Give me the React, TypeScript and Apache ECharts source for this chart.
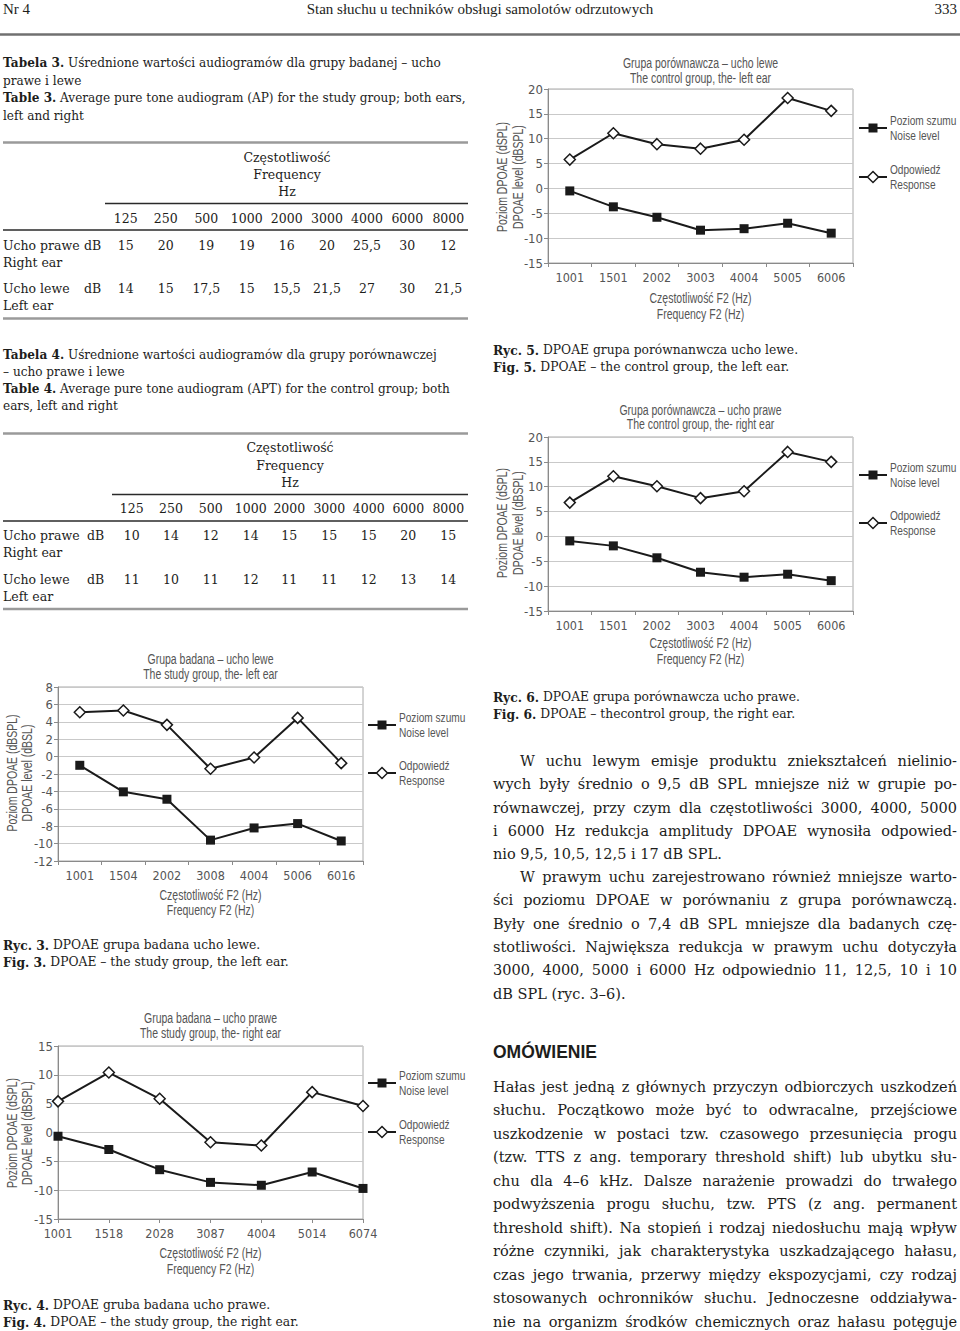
import React, { useEffect, useRef } from 'react';
import * as echarts from 'echarts';

// ---------- data ----------
const tableFreqs = ['125', '250', '500', '1000', '2000', '3000', '4000', '6000', '8000'];
const table3Right = ['15', '20', '19', '19', '16', '20', '25,5', '30', '12'];
const table3Left = ['14', '15', '17,5', '15', '15,5', '21,5', '27', '30', '21,5'];
const table4Right = ['10', '14', '12', '14', '15', '15', '15', '20', '15'];
const table4Left = ['11', '10', '11', '12', '11', '11', '12', '13', '14'];

const catsFig3 = ['1001', '1504', '2002', '3008', '4004', '5006', '6016'];
const noiseFig3 = [-1.0, -4.05, -4.9, -9.6, -8.2, -7.7, -9.7];
const respFig3 = [5.1, 5.3, 3.65, -1.4, -0.1, 4.45, -0.75];

const catsFig4 = ['1001', '1518', '2028', '3087', '4004', '5014', '6074'];
const noiseFig4 = [-0.65, -2.95, -6.45, -8.65, -9.15, -6.85, -9.7];
const respFig4 = [5.4, 10.4, 5.85, -1.7, -2.25, 7.0, 4.6];

const catsFig5 = ['1001', '1501', '2002', '3003', '4004', '5005', '6006'];
const noiseFig5 = [-0.5, -3.7, -5.8, -8.4, -8.1, -7.0, -9.0];
const respFig5 = [5.8, 11.1, 8.9, 8.0, 9.8, 18.2, 15.6];

const catsFig6 = ['1001', '1501', '2002', '3003', '4004', '5005', '6006'];
const noiseFig6 = [-0.9, -1.9, -4.3, -7.2, -8.2, -7.6, -8.9];
const respFig6 = [6.8, 12.1, 10.1, 7.7, 9.1, 17.0, 15.0];

const seriesNoiseName = 'Poziom szumu';
const seriesNoiseName2 = 'Noise level';
const seriesRespName = 'Odpowiedź';
const seriesRespName2 = 'Response';

const para1 = [
  'W uchu lewym emisje produktu zniekształceń nielinio-',
  'wych były średnio o 9,5 dB SPL mniejsze niż w grupie po-',
  'równawczej, przy czym dla częstotliwości 3000, 4000, 5000',
  'i 6000 Hz redukcja amplitudy DPOAE wynosiła odpowied-',
  'nio 9,5, 10,5, 12,5 i 17 dB SPL.',
];
const para2 = [
  'W prawym uchu zarejestrowano również mniejsze warto-',
  'ści poziomu DPOAE w porównaniu z grupa porównawczą.',
  'Były one średnio o 7,4 dB SPL mniejsze dla badanych czę-',
  'stotliwości. Największa redukcja w prawym uchu dotyczyła',
  '3000, 4000, 5000 i 6000 Hz odpowiednio 11, 12,5, 10 i 10',
  'dB SPL (ryc. 3–6).',
];
const para3 = [
  'Hałas jest jedną z głównych przyczyn odbiorczych uszkodzeń',
  'słuchu. Początkowo może być to odwracalne, przejściowe',
  'uszkodzenie w postaci tzw. czasowego przesunięcia progu',
  '(tzw. TTS z ang. temporary threshold shift) lub ubytku słu-',
  'chu dla 4–6 kHz. Dalsze narażenie prowadzi do trwałego',
  'podwyższenia progu słuchu, tzw. PTS (z ang. permanent',
  'threshold shift). Na stopień i rodzaj niedosłuchu mają wpływ',
  'różne czynniki, jak charakterystyka uszkadzającego hałasu,',
  'czas jego trwania, przerwy między ekspozycjami, czy rodzaj',
  'stosowanych ochronników słuchu. Jednoczesne oddziaływa-',
  'nie na organizm środków chemicznych oraz hałasu potęguje',
];

// ---------- styles ----------
const SERIF = '"DejaVu Serif", serif';
const HEAD = '"Liberation Serif", "Times New Roman", serif';
const SANS = '"Liberation Sans", Arial, sans-serif';
const AXISF = '"DejaVu Sans Condensed", "Liberation Sans", sans-serif';
const NX = 0.75; // horizontal squeeze imitating a narrow sans face
const INK = '#1d1d1b';
const CHART_TXT = '#555555';
const LINE = '#1a1a1a';

let measureCtx: CanvasRenderingContext2D | null = null;
function measure(text: string, size: number, family: string, weight = 'normal') {
  if (!measureCtx) measureCtx = document.createElement('canvas').getContext('2d');
  measureCtx!.font = `${weight} ${size}px ${family}`;
  return measureCtx!.measureText(text).width;
}

function txt(x: number, y: number, text: string, size: number, family: string, opts: any = {}) {
  return {
    type: 'text',
    x,
    y,
    rotation: opts.rotation || 0,
    scaleX: opts.scaleX || 1,
    silent: true,
    style: {
      text,
      fontSize: size,
      fontFamily: family,
      fontWeight: opts.weight || 'normal',
      fill: opts.fill || INK,
      textAlign: opts.align || 'left',
      textVerticalAlign: 'middle',
      verticalAlign: 'middle',
      rich: opts.rich,
    },
  };
}

function ctxt(x: number, y: number, text: string, size: number, opts: any = {}) {
  return txt(x, y, text, size, SANS, { fill: CHART_TXT, scaleX: NX, ...opts });
}

function richBold(size: number, family: string) {
  return {
    b: { fontSize: size, fontFamily: family, fontWeight: 'bold', fill: INK },
    n: { fontSize: size, fontFamily: family, fontWeight: 'normal', fill: INK },
  };
}

function justifiedLine(line: string, x0: number, x1: number, y: number, size: number, family: string, justify: boolean) {
  if (!justify) return [txt(x0, y, line, size, family)];
  const words = line.split(' ');
  const widths = words.map((w) => measure(w, size, family));
  const total = widths.reduce((a, b) => a + b, 0);
  const gap = words.length > 1 ? (x1 - x0 - total) / (words.length - 1) : 0;
  const out: any[] = [];
  let x = x0;
  words.forEach((w, i) => {
    out.push(txt(x, y, w, size, family));
    x += widths[i] + gap;
  });
  return out;
}

function paragraph(lines: string[], x0: number, x1: number, y0: number, dy: number, indent: number, lastJustified: boolean, size: number) {
  const out: any[] = [];
  lines.forEach((l, i) => {
    const isLast = i === lines.length - 1;
    out.push(...justifiedLine(l, x0 + (i === 0 ? indent : 0), x1, y0 + i * dy, size, SERIF, !isLast || lastJustified));
  });
  return out;
}

function hline(x1: number, x2: number, y: number, color: string, w: number) {
  return { type: 'line', silent: true, shape: { x1, y1: y, x2, y2: y }, style: { stroke: color, lineWidth: w } };
}

// ---------- table builder ----------
function table(cfg: any) {
  const S = 12.5;
  const CSZ = 12.1;
  const out: any[] = [];
  cfg.caption.forEach((c: string, i: number) => {
    out.push(txt(3, cfg.capY[i], c, CSZ, SERIF, { rich: richBold(CSZ, SERIF) }));
  });
  out.push(hline(3, 468, cfg.top, '#9a9a9a', 2.5));
  out.push(txt(cfg.headX, cfg.headY[0], 'Częstotliwość', S, SERIF, { align: 'center' }));
  out.push(txt(cfg.headX, cfg.headY[1], 'Frequency', S, SERIF, { align: 'center' }));
  out.push(txt(cfg.headX, cfg.headY[2], 'Hz', S, SERIF, { align: 'center' }));
  out.push(hline(cfg.rule2X, 468, cfg.rule2Y, '#2a2a2a', 1.6));
  tableFreqs.forEach((f, i) => out.push(txt(cfg.cols[i], cfg.freqY, f, S, SERIF, { align: 'center' })));
  out.push(hline(3, 468, cfg.rule3Y, '#2a2a2a', 1.6));
  out.push(txt(3, cfg.row1Y, 'Ucho prawe', S, SERIF));
  out.push(txt(cfg.dbX, cfg.row1Y, 'dB', S, SERIF, { align: 'center' }));
  out.push(txt(3, cfg.row1Y + 17.3, 'Right ear', S, SERIF));
  cfg.right.forEach((v: string, i: number) => out.push(txt(cfg.cols[i], cfg.row1Y, v, S, SERIF, { align: 'center' })));
  out.push(txt(3, cfg.row2Y, 'Ucho lewe', S, SERIF));
  out.push(txt(cfg.dbX, cfg.row2Y, 'dB', S, SERIF, { align: 'center' }));
  out.push(txt(3, cfg.row2Y + 17.3, 'Left ear', S, SERIF));
  cfg.left.forEach((v: string, i: number) => out.push(txt(cfg.cols[i], cfg.row2Y, v, S, SERIF, { align: 'center' })));
  out.push(hline(3, 468, cfg.bottom, '#9a9a9a', 2.5));
  return out;
}

// ---------- chart builder ----------
function chartBlock(i: number, c: any) {
  const grid = { left: c.left, top: c.top, width: c.width, height: c.height, show: true, borderColor: '#a8a8a8', borderWidth: 1, backgroundColor: 'transparent' };
  const xAxis = {
    type: 'category',
    gridIndex: i,
    data: c.cats,
    boundaryGap: c.boundaryGap,
    axisLine: { onZero: false, lineStyle: { color: '#8a8a8a', width: 1 } },
    axisTick: { show: true, length: 4, alignWithLabel: false, lineStyle: { color: '#8a8a8a' } },
    axisLabel: { color: CHART_TXT, fontSize: 12.5, fontFamily: AXISF, margin: 8 },
    splitLine: { show: false },
  };
  const yAxis = {
    type: 'value',
    gridIndex: i,
    min: c.min,
    max: c.max,
    interval: c.interval,
    axisLine: { show: true, lineStyle: { color: '#8a8a8a', width: 1 } },
    axisTick: { show: true, length: 4, lineStyle: { color: '#8a8a8a' } },
    axisLabel: { color: CHART_TXT, fontSize: 13, fontFamily: AXISF, margin: 5 },
    splitLine: { show: true, lineStyle: { color: '#c9c9c9', width: 1 } },
  };
  const series = [
    {
      type: 'line',
      name: seriesNoiseName,
      xAxisIndex: i,
      yAxisIndex: i,
      data: c.noise,
      symbol: 'rect',
      symbolSize: 9,
      lineStyle: { color: LINE, width: 2 },
      itemStyle: { color: LINE, borderColor: LINE, borderWidth: 0 },
      z: 3,
    },
    {
      type: 'line',
      name: seriesRespName,
      xAxisIndex: i,
      yAxisIndex: i,
      data: c.resp,
      symbol: 'diamond',
      symbolSize: 11,
      lineStyle: { color: LINE, width: 2 },
      itemStyle: { color: '#ffffff', borderColor: LINE, borderWidth: 1.5 },
      z: 3,
    },
  ];
  const cx = c.left + c.width / 2;
  const g: any[] = [];
  g.push(ctxt(cx, c.titleY[0], c.title[0], 14, { align: 'center' }));
  g.push(ctxt(cx, c.titleY[1], c.title[1], 14, { align: 'center' }));
  g.push(ctxt(c.yNameX[0], c.yNameY, c.yName[0], 14, { align: 'center', rotation: Math.PI / 2 }));
  g.push(ctxt(c.yNameX[1], c.yNameY, c.yName[1], 14, { align: 'center', rotation: Math.PI / 2 }));
  g.push(ctxt(cx, c.xNameY[0], 'Częstotliwość F2 (Hz)', 14, { align: 'center' }));
  g.push(ctxt(cx, c.xNameY[1], 'Frequency F2 (Hz)', 14, { align: 'center' }));
  // legend
  const lx0 = c.legX - 29;
  const mx = c.legX - 15;
  g.push({ type: 'line', silent: true, shape: { x1: lx0, y1: c.legY[0], x2: c.legX - 1, y2: c.legY[0] }, style: { stroke: LINE, lineWidth: 2 } });
  g.push({ type: 'rect', silent: true, shape: { x: mx - 4.5, y: c.legY[0] - 4.5, width: 9, height: 9 }, style: { fill: LINE } });
  g.push(ctxt(c.legX + 2, c.legY[0] - 7.5, seriesNoiseName, 13.5));
  g.push(ctxt(c.legX + 2, c.legY[0] + 7.5, seriesNoiseName2, 13.5));
  g.push({ type: 'line', silent: true, shape: { x1: lx0, y1: c.legY[1], x2: c.legX - 1, y2: c.legY[1] }, style: { stroke: LINE, lineWidth: 2 } });
  g.push({
    type: 'polygon',
    silent: true,
    z: 10,
    shape: { points: [[mx, c.legY[1] - 5.5], [mx + 5.5, c.legY[1]], [mx, c.legY[1] + 5.5], [mx - 5.5, c.legY[1]]] },
    style: { fill: '#fff', stroke: LINE, lineWidth: 1.5 },
  });
  g.push(ctxt(c.legX + 2, c.legY[1] - 8, seriesRespName, 13.5));
  g.push(ctxt(c.legX + 2, c.legY[1] + 7, seriesRespName2, 13.5));
  return { grid, xAxis, yAxis, series, g };
}

const charts = [
  {
    cats: catsFig5, noise: noiseFig5, resp: respFig5, left: 548, top: 89, width: 305, height: 174,
    min: -15, max: 20, interval: 5, boundaryGap: true,
    title: ['Grupa porównawcza – ucho lewe', 'The control group, the- left ear'], titleY: [63, 78],
    yName: ['Poziom DPOAE (dSPL)', 'DPOAE level (dBSPL)'], yNameX: [502, 518], yNameY: 177,
    xNameY: [298, 314], legX: 888, legY: [128, 177],
  },
  {
    cats: catsFig6, noise: noiseFig6, resp: respFig6, left: 548, top: 437, width: 305, height: 174,
    min: -15, max: 20, interval: 5, boundaryGap: true,
    title: ['Grupa porównawcza – ucho prawe', 'The control group, the- right ear'], titleY: [410, 424],
    yName: ['Poziom DPOAE (dSPL)', 'DPOAE level (dBSPL)'], yNameX: [502, 518], yNameY: 523,
    xNameY: [643, 659], legX: 888, legY: [475, 523],
  },
  {
    cats: catsFig3, noise: noiseFig3, resp: respFig3, left: 58, top: 687, width: 305, height: 174,
    min: -12, max: 8, interval: 2, boundaryGap: true,
    title: ['Grupa badana – ucho lewe', 'The study group, the- left ear'], titleY: [659, 674],
    yName: ['Poziom DPOAE (dBSPL)', 'DPOAE level (dBSL)'], yNameX: [12, 27], yNameY: 773,
    xNameY: [895, 910], legX: 397, legY: [725, 773],
  },
  {
    cats: catsFig4, noise: noiseFig4, resp: respFig4, left: 58, top: 1046, width: 305, height: 173,
    min: -15, max: 15, interval: 5, boundaryGap: false,
    title: ['Grupa badana – ucho prawe', 'The study group, the- right ear'], titleY: [1018, 1033],
    yName: ['Poziom DPOAE (dSPL)', 'DPOAE level (dBSPL)'], yNameX: [12, 27], yNameY: 1133,
    xNameY: [1253, 1269], legX: 397, legY: [1083, 1132],
  },
];

function buildOption() {
  const blocks = charts.map((c, i) => chartBlock(i, c));
  const g: any[] = [];
  // header
  g.push(txt(3, 9, 'Nr 4', 15, HEAD));
  g.push(txt(480, 9, 'Stan słuchu u techników obsługi samolotów odrzutowych', 15, HEAD, { align: 'center' }));
  g.push(txt(957, 9, '333', 15, HEAD, { align: 'right' }));
  g.push(hline(0, 960, 34.5, '#707070', 2.5));

  g.push(...table({
    caption: [
      '{b|Tabela 3.} Uśrednione wartości audiogramów dla grupy badanej – ucho',
      'prawe i lewe',
      '{b|Table 3.} Average pure tone audiogram (AP) for the study group; both ears,',
      'left and right',
    ],
    capY: [63, 80.5, 98, 115.5], top: 142.5, headX: 287, headY: [157, 174, 191.5],
    rule2X: 105, rule2Y: 203.5, freqY: 218.5, rule3Y: 230,
    cols: [125.7, 165.7, 206.3, 246.7, 286.7, 327, 367, 407.3, 448.3],
    row1Y: 245, row2Y: 288.5, dbX: 92.5, bottom: 318.5, right: table3Right, left: table3Left,
  }));
  g.push(...table({
    caption: [
      '{b|Tabela 4.} Uśrednione wartości audiogramów dla grupy porównawczej',
      '– ucho prawe i lewe',
      '{b|Table 4.} Average pure tone audiogram (APT) for the control group; both',
      'ears, left and right',
    ],
    capY: [354.5, 371.5, 388.5, 405.5], top: 433.5, headX: 290, headY: [447.5, 465, 482],
    rule2X: 112, rule2Y: 494.5, freqY: 508.5, rule3Y: 521,
    cols: [131.7, 171, 210.7, 250.7, 289.3, 329.3, 368.7, 408.3, 448.3],
    row1Y: 535.5, row2Y: 579.5, dbX: 95.7, bottom: 609, right: table4Right, left: table4Left,
  }));

  // figure captions
  const CS = 12.3;
  const cap = (x: number, y: number, a: string, b: string) => {
    g.push(txt(x, y, a, CS, SERIF, { rich: richBold(CS, SERIF) }));
    g.push(txt(x, y + 17, b, CS, SERIF, { rich: richBold(CS, SERIF) }));
  };
  cap(493, 350, '{b|Ryc. 5.} DPOAE grupa porównanwcza ucho lewe.', '{b|Fig. 5.} DPOAE – the control group, the left ear.');
  cap(493, 697, '{b|Ryc. 6.} DPOAE grupa porównawcza ucho prawe.', '{b|Fig. 6.} DPOAE – thecontrol group, the right ear.');
  cap(3, 945, '{b|Ryc. 3.} DPOAE grupa badana ucho lewe.', '{b|Fig. 3.} DPOAE – the study group, the left ear.');
  cap(3, 1305, '{b|Ryc. 4.} DPOAE gruba badana ucho prawe.', '{b|Fig. 4.} DPOAE – the study group, the right ear.');

  // body text
  const BS = 14.5;
  g.push(...paragraph(para1, 493, 957, 761, 23.3, 27, false, BS));
  g.push(...paragraph(para2, 493, 957, 877, 23.3, 27, false, BS));
  g.push(txt(493, 1052, 'OMÓWIENIE', 17.5, SANS, { weight: 'bold' }));
  g.push(...paragraph(para3, 493, 957, 1087, 23.47, 0, true, BS));

  blocks.forEach((b) => g.push(...b.g));

  return {
    animation: false,
    backgroundColor: '#ffffff',
    grid: blocks.map((b) => b.grid),
    xAxis: blocks.map((b) => b.xAxis),
    yAxis: blocks.map((b) => b.yAxis),
    series: blocks.flatMap((b) => b.series),
    graphic: { elements: g },
  };
}

export default function App() {
  const ref = useRef<HTMLDivElement>(null);
  useEffect(() => {
    document.body.style.margin = '0';
    document.body.style.overflow = 'hidden';
    const chart = echarts.init(ref.current!, undefined, { renderer: 'svg' });
    chart.setOption(buildOption() as any);
    return () => chart.dispose();
  }, []);
  return <div ref={ref} style={{ position: 'absolute', left: 0, top: 0, width: 960, height: 1331 }} />;
}
